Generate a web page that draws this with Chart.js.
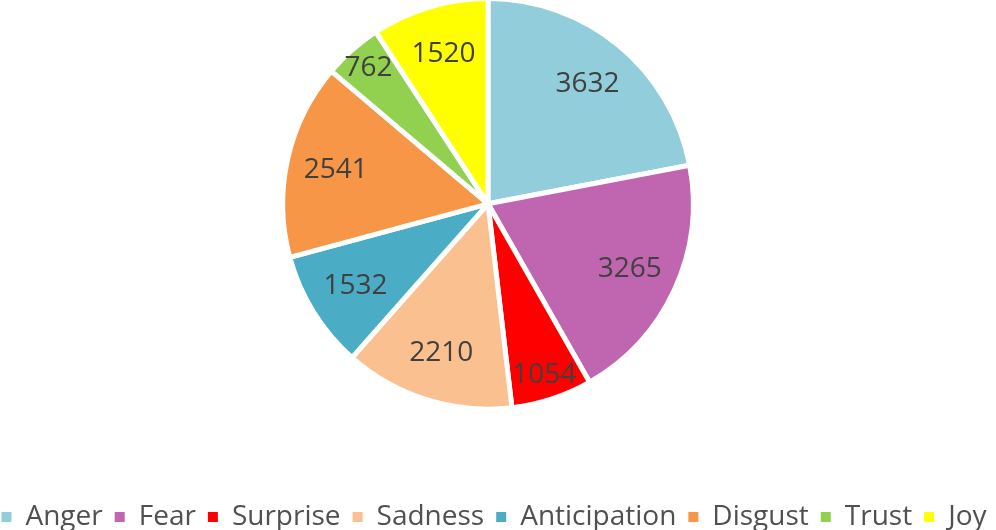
<!DOCTYPE html>
<html>
<head>
<meta charset="utf-8">
<script src="https://cdn.jsdelivr.net/npm/chart.js@4.4.0/dist/chart.umd.min.js"></script>
<style>
  html, body { margin: 0; padding: 0; background: #fff; overflow: hidden; }
  #wrap { position: relative; width: 996px; height: 530px; }
</style>
</head>
<body>
<div id="wrap"><canvas id="chart"></canvas></div>
<script>
// ── Data ───────────────────────────────────────────────────────────────────

const emotions = ["Anger", "Fear", "Surprise", "Sadness", "Anticipation", "Disgust", "Trust", "Joy"];
const counts   = [3632, 3265, 1054, 2210, 1532, 2541, 762, 1520];
const colors   = ["#92CDDC", "#C066B0", "#FF0000", "#FAC090", "#4BACC6", "#F79646", "#92D050", "#FFFF00"];

// ── Plugins ────────────────────────────────────────────────────────────────

// value labels inside each slice (small slices pushed further out)
const sliceLabels = {
  id: "sliceLabels",
  afterDatasetsDraw(chart) {
    const { ctx } = chart;
    const meta = chart.getDatasetMeta(0);
    const data = chart.data.datasets[0].data;
    const total = data.reduce((a, b) => a + b, 0);
    ctx.save();
    ctx.font = "28px 'Open Sans'";
    ctx.fillStyle = "#404040";
    ctx.textAlign = "center";
    ctx.textBaseline = "middle";
    meta.data.forEach((arc, i) => {
      const { x, y, startAngle, endAngle, outerRadius } =
        arc.getProps(["x", "y", "startAngle", "endAngle", "outerRadius"], true);
      const mid = (startAngle + endAngle) / 2;
      const k = data[i] / total < 0.07 ? 0.88 : 0.76;
      const r = outerRadius * k;
      ctx.fillText(String(data[i]), x + Math.cos(mid) * r, y + Math.sin(mid) * r);
    });
    ctx.restore();
  },
};

// pie sits a little left of the legend's centre and touches the top edge
const shiftPie = {
  id: "shiftPie",
  afterLayout(chart) {
    const a = chart.chartArea;
    a.right -= 20;
    a.width -= 20;
    a.top -= 4;
    a.height += 4;
  },
};

// legend squares without the white slice border
const defaultLabels = Chart.overrides.pie.plugins.legend.labels.generateLabels;
function legendLabels(chart) {
  return defaultLabels(chart).map(l => ({ ...l, lineWidth: 0, strokeStyle: "transparent" }));
}

// ── Chart ──────────────────────────────────────────────────────────────────

new Chart(document.getElementById("chart"), {
  type: "pie",
  data: {
    labels: emotions,
    datasets: [{
      data: counts,
      backgroundColor: colors,
      borderColor: "#FFFFFF",
      borderWidth: 5,
      hoverOffset: 0,
      offset: 0,
    }],
  },
  options: {
    responsive: true,
    maintainAspectRatio: false,
    animation: false,
    events: [],
    layout: { padding: { top: 0, bottom: -11, left: -24, right: -16 } },
    plugins: {
      tooltip: { enabled: false },
      legend: {
        position: "bottom",
        title: { display: true, text: " ", padding: { top: 65, bottom: 0 }, font: { size: 12 } },
        labels: {
          boxWidth: 10,
          boxHeight: 10,
          padding: 12,
          color: "#505050",
          font: { family: "'Open Sans'", size: 28 },
          generateLabels: legendLabels,
        },
      },
    },
  },
  plugins: [sliceLabels, shiftPie],
});
</script>
</body>
</html>
